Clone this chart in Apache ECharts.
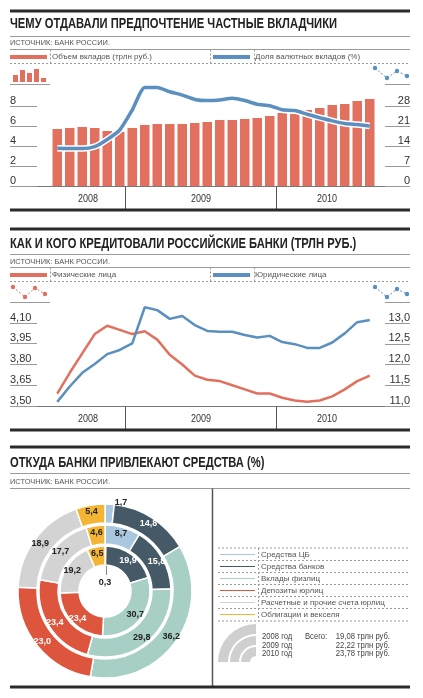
<!DOCTYPE html>
<html>
<head>
<meta charset="utf-8">
<title>Банки</title>
<script src="https://cdn.jsdelivr.net/npm/echarts@6/dist/echarts.min.js"></script>
<style>
html, body { margin: 0; padding: 0; background: #fff; }
#main { width: 423px; height: 698px; }
</style>
</head>
<body>
<div id="main"></div>
<script>
// --- данные ---
// месяцы: июль 2008 - август 2010
var months = ['07.08','08.08','09.08','10.08','11.08','12.08',
  '01.09','02.09','03.09','04.09','05.09','06.09','07.09','08.09','09.09','10.09','11.09','12.09',
  '01.10','02.10','03.10','04.10','05.10','06.10','07.10','08.10'];
var years = ['2008', '2009', '2010'];

// объем вкладов, трлн руб.
var deposits = [5.7, 5.8, 5.9, 5.8, 5.5, 5.4,
  5.8, 6.1, 6.2, 6.2, 6.2, 6.3, 6.4, 6.6, 6.6, 6.7, 6.8, 7.0,
  7.3, 7.2, 7.6, 7.8, 8.1, 8.2, 8.5, 8.7];
// доля валютных вкладов, %
var fxShare = [13.2, 13.1, 13.1, 13.8, 16.3, 19.6,
  26.6, 34.5, 34.5, 33.0, 31.8, 30.3, 29.9, 30.1, 30.7, 29.9, 28.6, 28.1,
  26.7, 26.4, 25.1, 23.9, 22.8, 21.9, 21.5, 21.0];

// кредиты, трлн руб.
var loansPersons = [3.59, 3.74, 3.88, 4.02, 4.08, 4.05,
  4.02, 4.04, 3.98, 3.87, 3.80, 3.72, 3.69, 3.68, 3.65, 3.62, 3.59, 3.59,
  3.56, 3.54, 3.53, 3.54, 3.57, 3.62, 3.68, 3.72];
var loansCompanies = [11.10, 11.47, 11.80, 12.01, 12.25, 12.35,
  12.51, 13.38, 13.31, 13.10, 13.17, 12.95, 12.81, 12.79, 12.79, 12.71, 12.65, 12.69,
  12.54, 12.49, 12.40, 12.40, 12.53, 12.75, 13.02, 13.07];
var personsTicks = [3.50, 3.65, 3.80, 3.95, 4.10];

// структура пассивов, %
var sources = ['Средства ЦБ', 'Средства банков', 'Вклады физлиц', 'Депозиты юрлиц',
  'Расчетные и прочие счета юрлиц', 'Облигации и векселя'];
var share2008 = [0.3, 19.9, 30.7, 23.4, 19.2, 6.5];
var share2009 = [8.7, 15.8, 29.8, 23.4, 17.7, 4.6];
var share2010 = [1.7, 14.8, 36.2, 23.0, 18.9, 5.4];
var yearNames = ['2008 год', '2009 год', '2010 год'];
var totals = [19.08, 22.22, 23.78];

var pieColors = ['#a9c7df', '#455a66', '#a7cfc6', '#dc553c', '#d3d3d3', '#f3b533'];
var pieLabelColors = ['#222', '#fff', '#222', '#fff', '#222', '#222'];

var FONT = "'Liberation Sans',Arial,sans-serif";
var RED = '#e1705f';
var BLUE = '#5b8fbf';

function comma(v, d) { return v.toFixed(d).replace('.', ','); }

// сжатие шрифта под узкий газетный
var ctx = document.createElement('canvas').getContext('2d');
function measure(s, font) { ctx.font = font; return ctx.measureText(s).width; }
var TITLE_FONT = 'bold 14px ' + FONT;
var titleScale = 327 / measure('ЧЕМУ ОТДАВАЛИ ПРЕДПОЧТЕНИЕ ЧАСТНЫЕ ВКЛАДЧИКИ', TITLE_FONT);
var smallScale = 100 / measure('ИСТОЧНИК: БАНК РОССИИ.', '8px ' + FONT);

// --- оформление ---
var g = [];
function hline(x1, x2, y, color, w, dash) {
  g.push({ type: 'line', silent: true, shape: { x1: x1, y1: y, x2: x2, y2: y },
    style: { stroke: color, lineWidth: w || 1, lineDash: dash || null } });
}
function vline(x, y1, y2, color, w, dash) {
  g.push({ type: 'line', silent: true, shape: { x1: x, y1: y1, x2: x, y2: y2 },
    style: { stroke: color, lineWidth: w || 1, lineDash: dash || null } });
}
function txt(x, y, s, font, color, align, sx) {
  g.push({ type: 'text', silent: true, x: x, y: y, scaleX: sx || 1,
    style: { text: s, font: font, fill: color, align: align || 'left', verticalAlign: 'middle' } });
}
function title(y, s) { txt(10, y, s, TITLE_FONT, '#222', 'left', titleScale); }
function source(y) { txt(10, y, 'ИСТОЧНИК: БАНК РОССИИ.', '8px ' + FONT, '#555', 'left', smallScale); }
function dotsIcon(pts, color) {
  g.push({ type: 'polyline', silent: true, shape: { points: pts },
    style: { stroke: color, lineWidth: 1, lineDash: [2, 2], fill: null } });
  pts.forEach(function (p) {
    g.push({ type: 'circle', silent: true, shape: { cx: p[0], cy: p[1], r: 2.2 }, style: { fill: color } });
  });
}
function header(yTop) {
  hline(10, 410, yTop, '#2b2b2b', 3);
  hline(10, 410, yTop + 25.5, '#9a9a9a', 1);
  hline(10, 410, yTop + 38.5, '#9a9a9a', 1);
}
function legendBox(y1, y2) {
  hline(10, 410, y2, '#999', 1, [2, 2]);
  vline(50.5, y1, y2, '#999', 1, [2, 2]);
  vline(210.5, y1, y2, '#999', 1, [2, 2]);
  vline(254.5, y1, y2, '#999', 1, [2, 2]);
}
function yearBand(yBase, yBottom) {
  hline(10, 410, yBase, '#777', 1);
  vline(125.5, yBase, yBottom, '#555', 1);
  vline(276.5, yBase, yBottom, '#555', 1);
  hline(10, 410, yBottom + 1, '#2b2b2b', 3);
  var cx = [88, 201, 327];
  years.forEach(function (y, i) { txt(cx[i], (yBase + yBottom) / 2 + 1, y, '10px ' + FONT, '#333', 'center', 0.9); });
}

// блок 1
header(11);
title(24, 'ЧЕМУ ОТДАВАЛИ ПРЕДПОЧТЕНИЕ ЧАСТНЫЕ ВКЛАДЧИКИ');
source(43);
legendBox(49.5, 63.5);
[[13, 7], [20, 12], [27, 9], [34, 13], [41, 4]].forEach(function (b) {
  g.push({ type: 'rect', silent: true, shape: { x: b[0], y: 82 - b[1], width: 5, height: b[1] }, style: { fill: RED } });
});
dotsIcon([[375, 68], [387, 78], [397, 71], [407, 76]], BLUE);
hline(10, 50, 84.5, '#999', 1);
hline(385, 410, 84.5, '#999', 1);
yearBand(186.5, 209);

// блок 2
header(229);
title(244, 'КАК И КОГО КРЕДИТОВАЛИ РОССИЙСКИЕ БАНКИ (ТРЛН РУБ.)');
source(262);
legendBox(267.5, 281.5);
dotsIcon([[13, 287], [25, 297], [35, 288], [45, 294]], RED);
dotsIcon([[375, 287], [387, 297], [397, 289], [407, 294]], BLUE);
hline(10, 50, 302.5, '#999', 1);
hline(385, 410, 302.5, '#999', 1);
yearBand(406.5, 429);

// блок 3
hline(10, 410, 447, '#2b2b2b', 3);
title(463, 'ОТКУДА БАНКИ ПРИВЛЕКАЮТ СРЕДСТВА (%)');
hline(10, 410, 473.5, '#9a9a9a', 1);
source(482);
hline(10, 410, 488.5, '#9a9a9a', 1);
vline(212.5, 488.5, 686, '#555', 1.5);
hline(10, 410, 687, '#2b2b2b', 3);
[548, 560.5, 572.5, 584.5, 596.5, 608.5, 621].forEach(function (y) { hline(218, 410, y, '#999', 1, [2, 2]); });
vline(258.5, 548, 621, '#999', 1, [2, 2]);
[[28, 38], [17, 26], [6, 15]].forEach(function (r) {
  g.push({ type: 'sector', silent: true,
    shape: { cx: 256, cy: 662, r0: r[0], r: r[1], startAngle: Math.PI, endAngle: Math.PI * 1.5 },
    style: { fill: '#cfcfcf' } });
});
yearNames.forEach(function (y, i) {
  var yy = 637 + 8.5 * i;
  txt(262, yy, y, '8.5px ' + FONT, '#444', 'left', 0.9);
  if (i === 0) txt(305, yy, 'Всего:', '8.5px ' + FONT, '#444', 'left', 0.9);
  txt(390, yy, comma(totals[i], 2) + ' трлн руб.', '8.5px ' + FONT, '#444', 'right', 0.9);
});
vline(106.5, 566, 575, '#888', 1);

// --- кольца ---
function ring(name, data, radius) {
  return {
    type: 'pie', name: name, center: [105, 591], radius: radius,
    startAngle: 90, clockwise: true, avoidLabelOverlap: false, animation: false,
    emphasis: { disabled: true },
    itemStyle: { borderColor: '#fff', borderWidth: 1.5 },
    label: { position: 'inside', fontSize: 9, fontWeight: 'bold', fontFamily: FONT,
      formatter: function (p) { return comma(p.value, 1); } },
    labelLine: { show: false },
    data: data.map(function (v, i) {
      return { name: sources[i], value: v, itemStyle: { color: pieColors[i] }, label: { color: pieLabelColors[i] } };
    })
  };
}
var r2008 = ring('2008', share2008, [26, 45]);
var r2009 = ring('2009', share2009, [47, 66]);
var r2010 = ring('2010', share2010, [68, 87]);
// мелкие доли подписаны вне кольца
r2008.data[0].label = { position: 'center', color: '#222', lineHeight: 16,
  formatter: function (p) { return comma(p.value, 1) + '\n '; } };
r2010.data[0].label = { position: 'outside', color: '#222' };
r2010.data[0].labelLine = { show: false, length: 2, length2: 0 };

var tickStyle = { show: true, lineStyle: { color: '#999', width: 1 } };
var legendText = { fontSize: 8, color: '#555', fontFamily: FONT, lineHeight: 10 };
var axisText = { fontSize: 11, color: '#333', fontFamily: FONT };

var option = {
  backgroundColor: '#fff',
  animation: false,
  textStyle: { fontFamily: FONT },
  legend: [
    { data: ['Объем вкладов (трлн руб.)'], left: 10, top: 52, padding: 0, icon: 'rect', itemWidth: 37, itemHeight: 4,
      selectedMode: false, textStyle: legendText },
    { data: ['Доля валютных вкладов (%)'], left: 213, top: 52, padding: 0, icon: 'rect', itemWidth: 37, itemHeight: 4,
      selectedMode: false, textStyle: legendText },
    { data: ['Физические лица'], left: 10, top: 270, padding: 0, icon: 'rect', itemWidth: 37, itemHeight: 4,
      selectedMode: false, textStyle: legendText },
    { data: ['Юридические лица'], left: 213, top: 270, padding: 0, icon: 'rect', itemWidth: 37, itemHeight: 4,
      selectedMode: false, textStyle: legendText },
    { data: sources, orient: 'vertical', left: 218, top: 549.5, padding: 0, icon: 'rect', itemWidth: 37, itemHeight: 3,
      itemGap: 2, selectedMode: false, textStyle: legendText }
  ],
  grid: [
    { left: 51, width: 325, top: 106, height: 80 },
    { left: 51, width: 325, top: 323, height: 83 }
  ],
  xAxis: [
    { type: 'category', gridIndex: 0, data: months, show: false },
    { type: 'category', gridIndex: 1, data: months, show: false }
  ],
  yAxis: [
    { type: 'value', gridIndex: 0, position: 'left', min: 0, max: 8, interval: 2, offset: 14,
      axisLine: { show: false }, splitLine: { show: false },
      axisTick: Object.assign({ length: 27 }, tickStyle),
      axisLabel: Object.assign({ align: 'left', verticalAlign: 'bottom', margin: 27 }, axisText) },
    { type: 'value', gridIndex: 0, position: 'right', min: 0, max: 28, interval: 7, offset: 9,
      axisLine: { show: false }, splitLine: { show: false },
      axisTick: Object.assign({ length: 25 }, tickStyle),
      axisLabel: Object.assign({ align: 'right', verticalAlign: 'bottom', margin: 25 }, axisText) },
    { type: 'value', gridIndex: 1, position: 'left', min: 3.5, max: 4.1, offset: 14,
      axisLine: { show: false }, splitLine: { show: false },
      axisTick: Object.assign({ length: 27, customValues: personsTicks }, tickStyle),
      axisLabel: Object.assign({ customValues: personsTicks, align: 'left', verticalAlign: 'bottom', margin: 27,
        formatter: function (v) { return comma(v, 2); } }, axisText) },
    { type: 'value', gridIndex: 1, position: 'right', min: 11, max: 13, interval: 0.5, offset: 9,
      axisLine: { show: false }, splitLine: { show: false },
      axisTick: Object.assign({ length: 25 }, tickStyle),
      axisLabel: Object.assign({ align: 'right', verticalAlign: 'bottom', margin: 25,
        formatter: function (v) { return comma(v, 1); } }, axisText) }
  ],
  series: [
    { name: 'Объем вкладов (трлн руб.)', type: 'bar', xAxisIndex: 0, yAxisIndex: 0, data: deposits,
      barWidth: 9.5, clip: false, itemStyle: { color: RED } },
    { name: 'halo', type: 'line', xAxisIndex: 0, yAxisIndex: 1, data: fxShare, silent: true, clip: false,
      symbol: 'none', smooth: 0.2, lineStyle: { color: '#fff', width: 6.5 }, itemStyle: { color: '#fff' } },
    { name: 'Доля валютных вкладов (%)', type: 'line', xAxisIndex: 0, yAxisIndex: 1, data: fxShare, clip: false,
      symbol: 'none', smooth: 0.2, lineStyle: { color: BLUE, width: 3.5 }, itemStyle: { color: BLUE } },
    { name: 'Физические лица', type: 'line', xAxisIndex: 1, yAxisIndex: 2, data: loansPersons, clip: false,
      symbol: 'none', lineStyle: { color: RED, width: 2.5 }, itemStyle: { color: RED } },
    { name: 'Юридические лица', type: 'line', xAxisIndex: 1, yAxisIndex: 3, data: loansCompanies, clip: false,
      symbol: 'none', lineStyle: { color: BLUE, width: 2.5 }, itemStyle: { color: BLUE } },
    r2008, r2009, r2010
  ],
  graphic: g
};

var chart = echarts.init(document.getElementById('main'));
chart.setOption(option);
</script>
</body>
</html>
